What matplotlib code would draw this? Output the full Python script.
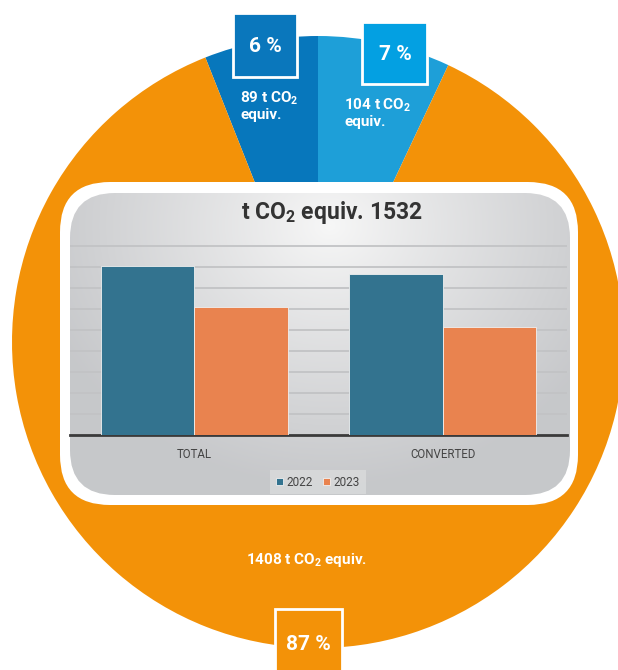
import numpy as np
import matplotlib
matplotlib.use("Agg")
import matplotlib.pyplot as plt
from matplotlib.patches import FancyBboxPatch, Rectangle

plt.rcParams['font.family'] = ['Roboto', 'DejaVu Sans']
plt.rcParams['mathtext.fontset'] = 'custom'
plt.rcParams['mathtext.rm'] = 'Roboto:bold'
plt.rcParams['mathtext.default'] = 'rm'

# pie: share of emissions (percent) and tonnes
pie_labels = ['104 t CO$_2$\nequiv.', '89 t CO$_2$\nequiv.', '1408 t CO$_2$ equiv.']
pie_pct = [7, 6, 87]
pie_colors = ['#1e9fd8', '#0777bc', '#f39208']

# inner bar chart (no y scale shown, heights read in gridline steps)
categories = ['TOTAL', 'CONVERTED']
years = ['2022', '2023']
values_2022 = [8.05, 7.67]
values_2023 = [6.10, 5.14]
bar_colors = ['#33738f', '#e9834f']
chart_title = 't CO$_2$ equiv. 1532'

W, H = 618, 670
fig = plt.figure(figsize=(W / 100, H / 100), dpi=100)


def px_axes(left, top, right, bottom, **kw):
    return fig.add_axes([left / W, 1 - bottom / H, (right - left) / W, (bottom - top) / H], **kw)


# --- pie ---
cx, cy, r = 318, 342, 306
ax_pie = px_axes(cx - r, cy - r, cx + r, cy + r)
ax_pie.set_zorder(0)
start = 90 - pie_pct[0] / sum(pie_pct) * 360
ax_pie.pie(pie_pct, colors=pie_colors, startangle=start, counterclock=True, radius=1)
ax_pie.set_aspect('auto')
ax_pie.set_xlim(-1, 1)
ax_pie.set_ylim(-1, 1)
ax_pie.axis('off')

# --- overlay in pixel coordinates ---
ov = fig.add_axes([0, 0, 1, 1])
ov.set_zorder(1)
ov.set_xlim(0, W)
ov.set_ylim(H, 0)
ov.axis('off')
ov.patch.set_alpha(0)

# white rounded frame
frame = FancyBboxPatch((60 + 50, 182 + 50), 518 - 100, 323 - 100,
                       boxstyle="round,pad=50", fc='white', ec='none')
ov.add_patch(frame)

# grey gradient panel
pl, pt, pr, pb = 70, 193, 570, 495
panel = FancyBboxPatch((pl + 45, pt + 45), (pr - pl) - 90, (pb - pt) - 90,
                       boxstyle="round,pad=45", fc='none', ec='none')
ov.add_patch(panel)
xx, yy = np.meshgrid(np.linspace(pl, pr, 300), np.linspace(pt, pb, 200))
d = np.sqrt(((xx - 330) / 300) ** 2 + ((yy - 225) / 260) ** 2)
d = np.clip(d, 0, 1)
c0 = np.array([0.97, 0.97, 0.97])
c1 = np.array([0.78, 0.785, 0.795])
img = c0 + (c1 - c0) * d[..., None] ** 0.9
im = ov.imshow(img, extent=(pl, pr, pb, pt), origin='upper', aspect='auto', zorder=2)
im.set_clip_path(panel)

ov.text(332, 212, chart_title, ha='center', va='center', fontsize=16.5,
        fontweight='bold', color='#333333', zorder=5)

# percentage boxes
ov.add_patch(Rectangle((233, 13), 64, 64, fc='#0a77bc', ec='white', lw=2, zorder=5))
ov.text(265, 46, '6 %', ha='center', va='center', color='white', fontsize=15,
        fontweight='bold', zorder=6)
ov.add_patch(Rectangle((362, 22), 65, 62, fc='#03a0e2', ec='white', lw=2, zorder=5))
ov.text(395, 54, '7 %', ha='center', va='center', color='white', fontsize=15,
        fontweight='bold', zorder=6)
ov.add_patch(Rectangle((275, 609), 67, 80, fc='#f39208', ec='white', lw=2, zorder=5))
ov.text(308, 645, '87 %', ha='center', va='center', color='white', fontsize=15,
        fontweight='bold', zorder=6)

# slice labels
ov.text(240, 106, pie_labels[1], ha='left', va='center', color='white', fontsize=11,
        fontweight='bold', linespacing=1.1, zorder=6)
ov.text(344, 113, pie_labels[0], ha='left', va='center', color='white', fontsize=11,
        fontweight='bold', linespacing=1.1, zorder=6)
ov.text(307, 560, pie_labels[2], ha='center', va='center', color='white', fontsize=11,
        fontweight='bold', zorder=6)

# --- bar chart ---
base, step = 435, 21
top = 240
ax = px_axes(70, top, 567, base)
ax.set_zorder(2)
ax.patch.set_alpha(0)
x = np.arange(len(categories))
bw = 0.376
ax.bar(x - bw / 2, values_2022, bw, color=bar_colors[0], edgecolor='#f0f0f0', lw=0.6,
       label=years[0], zorder=3)
ax.bar(x + bw / 2, values_2023, bw, color=bar_colors[1], edgecolor='#f0f0f0', lw=0.6,
       label=years[1], zorder=3)
ax.set_xlim(-0.5, 1.5)
ax.set_ylim(0, (base - top) / step)
ax.set_yticks(np.arange(1, 10))
ax.yaxis.grid(True, color='#c2c3c5', lw=1.3)
ax.set_axisbelow(True)
ax.tick_params(axis='y', left=False, labelleft=False)
ax.set_xticks(x)
ax.set_xticklabels(categories, fontsize=8.3, color='#444444')
ax.tick_params(axis='x', length=0, pad=9)
for s in ['top', 'left', 'right']:
    ax.spines[s].set_visible(False)
ax.spines['bottom'].set_color('#3a3a3a')
ax.spines['bottom'].set_linewidth(2)

leg = ax.legend(loc='center', bbox_to_anchor=(318 / W, 1 - 482 / H),
                bbox_transform=fig.transFigure, ncol=2, frameon=True, fontsize=8.5,
                handlelength=0.6, handleheight=0.6, handletextpad=0.3,
                columnspacing=0.9, borderpad=0.5, fancybox=False, labelcolor='#444444')
leg.get_frame().set_facecolor('#dadbdc')
leg.get_frame().set_edgecolor('none')

fig.savefig('out.png', dpi=100)
